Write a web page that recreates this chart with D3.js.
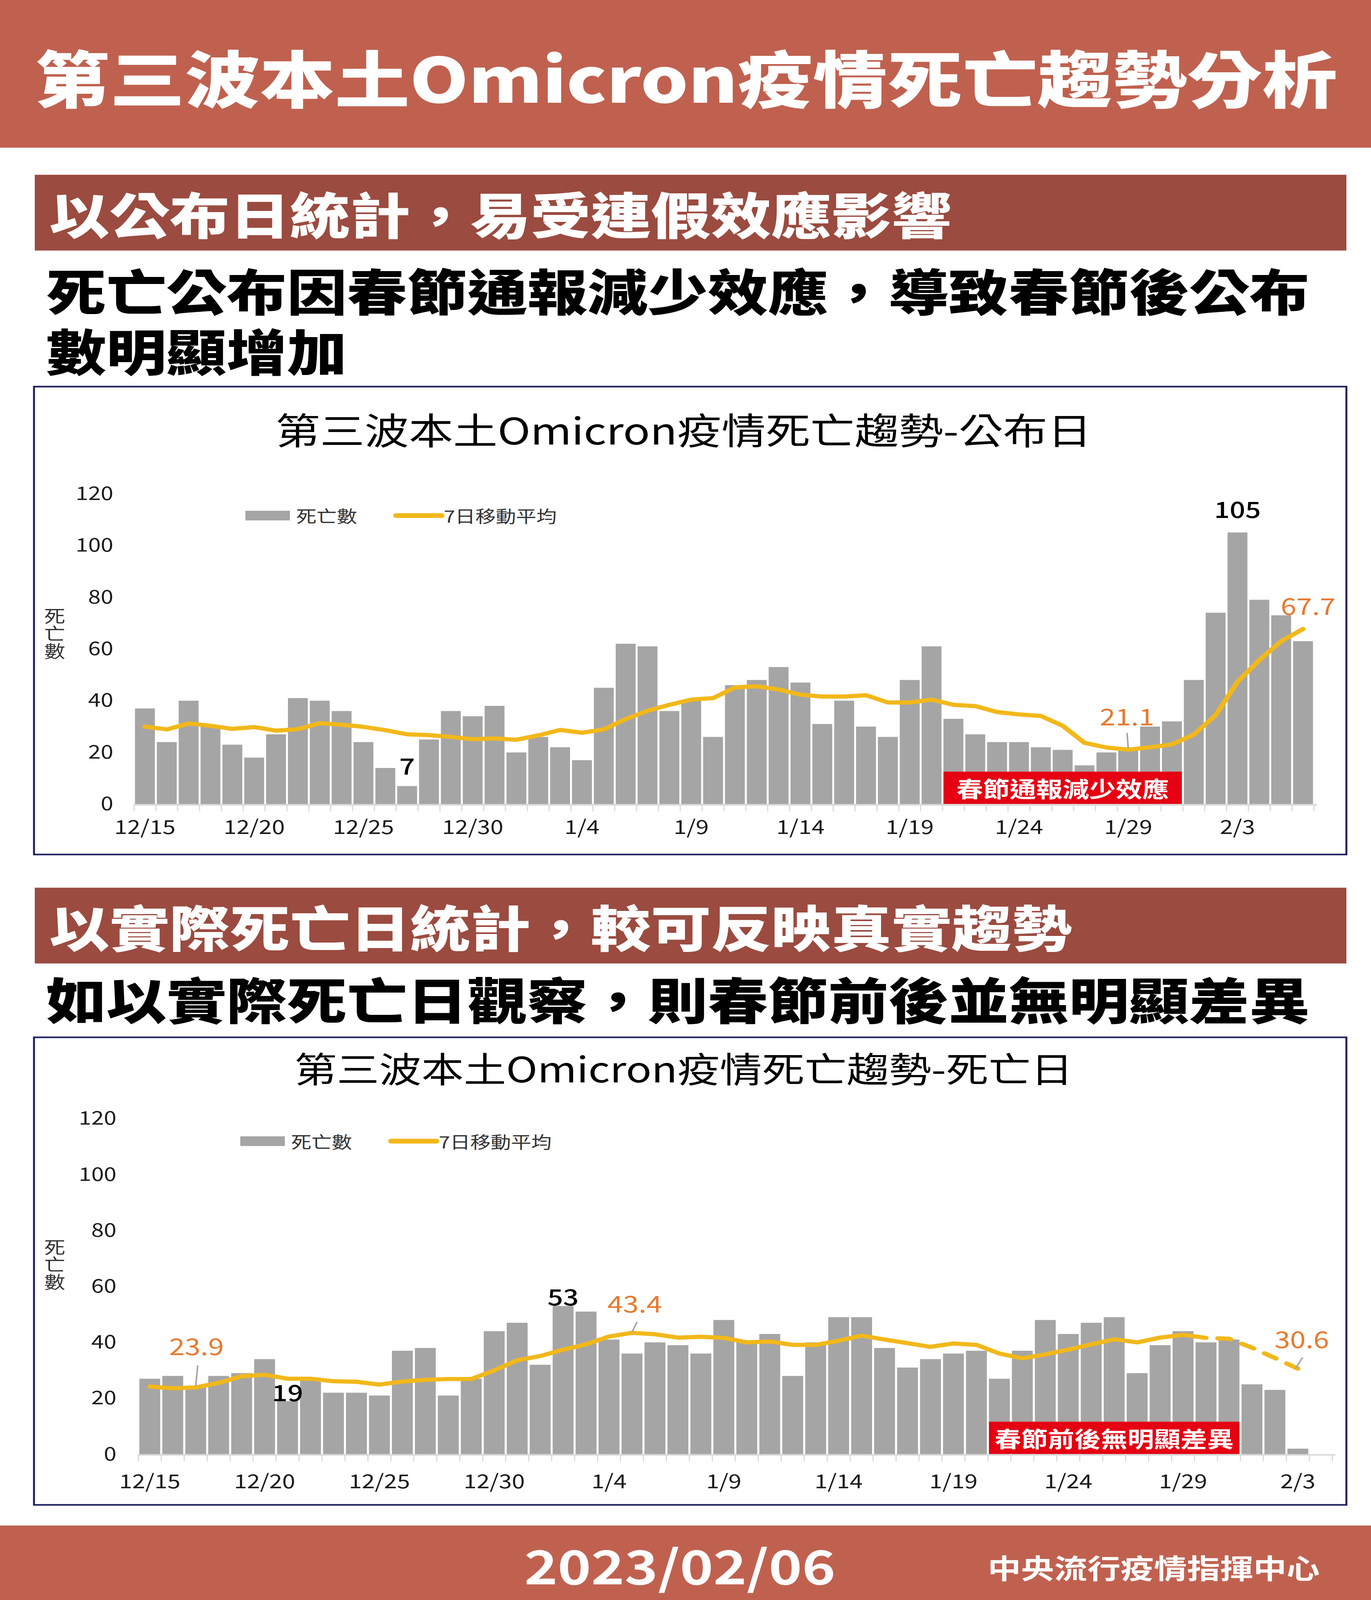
<!DOCTYPE html>
<html>
<head>
<meta charset="utf-8">
<script src="https://cdn.jsdelivr.net/npm/d3@7.9.0/dist/d3.min.js"></script>
<style>
  html, body { margin: 0; padding: 0; background: #fff; overflow: hidden; }
  /* the page is drawn in 3509x4962 units and fitted to whatever window we get */
  svg { display: block; width: 100vw; height: 100vh; }
  text { font-family: "Noto Sans CJK TC", "Noto Sans", sans-serif; }
</style>
</head>
<body>
<svg id="page" viewBox="0 0 3509 4962" preserveAspectRatio="none"></svg>
<script>
// ---- data ----
const days = [
  '12/15', '12/16', '12/17', '12/18', '12/19', '12/20', '12/21', '12/22', '12/23', '12/24',
  '12/25', '12/26', '12/27', '12/28', '12/29', '12/30', '12/31',
  '1/1', '1/2', '1/3', '1/4', '1/5', '1/6', '1/7', '1/8', '1/9', '1/10',
  '1/11', '1/12', '1/13', '1/14', '1/15', '1/16', '1/17', '1/18', '1/19', '1/20',
  '1/21', '1/22', '1/23', '1/24', '1/25', '1/26', '1/27', '1/28', '1/29', '1/30', '1/31',
  '2/1', '2/2', '2/3', '2/4', '2/5', '2/6'
];
const tickLabels = ['12/15', '12/20', '12/25', '12/30', '1/4', '1/9', '1/14', '1/19', '1/24', '1/29', '2/3'];
const yTicks = [0, 20, 40, 60, 80, 100, 120];

// by report date (12/15 - 2/6)
const pubDeaths = [
  37, 24, 40, 30, 23, 18, 27, 41, 40, 36, 24, 14, 7, 25, 36, 34, 38,
  20, 26, 22, 17, 45, 62, 61, 36, 40, 26, 46, 48, 53, 47, 31, 40, 30, 26, 48, 61,
  33, 27, 24, 24, 22, 21, 15, 20, 22, 30, 32,
  48, 74, 105, 79, 73, 63
];
const pubAvg = [
  30.0, 28.9, 31.2, 30.3, 29.1, 29.8, 28.4, 29.0, 31.3, 30.7, 29.9, 28.6, 27.0, 26.7, 26.0, 25.1, 25.4,
  24.9, 26.6, 28.7, 27.6, 28.9, 32.9, 36.1, 38.4, 40.4, 41.0, 45.1, 45.6, 44.3, 42.3, 41.6, 41.6, 42.1, 39.3, 39.3, 40.4,
  38.4, 37.9, 35.6, 34.7, 34.1, 30.3, 23.7, 21.9, 21.1, 22.0, 23.1,
  26.9, 34.4, 47.3, 55.7, 63.0, 67.7
];
const pubBarLabelDays = ['12/27', '2/3'];
const pubAvgLabelDays = ['1/29', '2/6'];

// by date of death (12/15 - 2/4)
const deathDays = days.slice(0, 52);
const deathCounts = [
  27, 28, 24, 28, 29, 34, 19, 27, 22, 22, 21, 37, 38, 21, 27, 44, 47,
  32, 53, 51, 41, 36, 40, 39, 36, 48, 40, 43, 28, 40, 49, 49, 38, 31, 34, 36, 37,
  27, 37, 48, 43, 47, 49, 29, 39, 44, 40, 41,
  25, 23, 2, null
];
const deathAvg = [
  24.2, 23.6, 23.9, 25.5, 27.9, 28.4, 27.0, 27.0, 26.1, 25.9, 24.9, 26.0, 26.6, 26.9, 26.9, 30.0, 33.6,
  35.1, 37.4, 39.3, 42.1, 43.4, 42.9, 41.7, 42.0, 41.6, 40.0, 40.3, 39.1, 39.1, 40.6, 42.4, 41.0, 39.7, 38.4, 39.6, 39.1,
  36.0, 34.3, 35.7, 37.4, 39.3, 41.1, 40.0, 41.7, 42.7, 41.6, 41.3,
  38.1, 34.4, 30.6, null
];
const deathBarLabelDays = ['12/21', '1/2'];
const deathAvgLabelDays = ['12/17', '1/5', '2/3'];
const deathDashFrom = '1/30';

const holidaySpan = ['1/21', '1/31'];

// ---- colours ----
const C = {
  header: '#C0614F',
  band: '#9B4B40',
  frame: '#1E2160',
  bar: '#A5A5A5',
  avg: '#F2B81A',
  orange: '#E67A30',
  red: '#E50012',
  axis: '#D9D9D9',
  ink: '#1a1a1a'
};

const svg = d3.select('#page');

function fitWidth(sel, w) {
  const len = sel.node().getComputedTextLength();
  const fs = parseFloat(sel.attr('font-size'));
  sel.attr('font-size', fs * w / len);
}

// ---- page frame ----
svg.append('rect').attr('x', 0).attr('y', 0).attr('width', 3509).attr('height', 458).attr('fill', C.header);
const mainTitle = svg.append('text')
  .attr('x', 1756).attr('y', 235)
  .attr('text-anchor', 'middle').attr('dominant-baseline', 'central')
  .attr('font-size', 196).attr('font-weight', 900).attr('fill', '#fff')
  .text('第三波本土Omicron疫情死亡趨勢分析');
fitWidth(mainTitle, 3333);

function band(y, h, label) {
  svg.append('rect').attr('x', 89).attr('y', y).attr('width', 3357).attr('height', h).attr('fill', C.band);
  svg.append('text')
    .attr('x', 126).attr('y', y + h / 2)
    .attr('dominant-baseline', 'central')
    .attr('font-size', 154).attr('font-weight', 900).attr('fill', '#fff')
    .text(label);
}

function sublines(y, lines) {
  const t = svg.append('text')
    .attr('y', y)
    .attr('dominant-baseline', 'central')
    .attr('font-size', 154).attr('font-weight', 900).attr('fill', '#000');
  lines.forEach((s, i) => {
    t.append('tspan').attr('x', 118).attr('dy', i === 0 ? 0 : 186).text(s);
  });
}

band(542, 235, '以公布日統計，易受連假效應影響');
sublines(897, ['死亡公布因春節通報減少效應，導致春節後公布', '數明顯增加']);

band(2753, 235, '以實際死亡日統計，較可反映真實趨勢');
sublines(3094, ['如以實際死亡日觀察，則春節前後並無明顯差異']);

svg.append('rect').attr('x', 0).attr('y', 4731).attr('width', 3509).attr('height', 231).attr('fill', C.header);
svg.append('text')
  .attr('x', 1740).attr('y', 4850)
  .attr('text-anchor', 'middle').attr('dominant-baseline', 'central')
  .attr('font-size', 145).attr('font-weight', 700).attr('fill', '#fff')
  .text('2023/02/06');
svg.append('text')
  .attr('x', 2528).attr('y', 4860)
  .attr('dominant-baseline', 'central')
  .attr('font-size', 85).attr('font-weight', 700).attr('fill', '#fff')
  .text('中央流行疫情指揮中心');

// ---- chart ----
function drawChart(o) {
  const g = svg.append('g');

  g.append('rect')
    .attr('x', 87).attr('y', o.boxTop).attr('width', 3359).attr('height', o.boxH)
    .attr('fill', '#fff').attr('stroke', C.frame).attr('stroke-width', 5);

  const title = g.append('text')
    .attr('x', 1750).attr('y', o.titleY)
    .attr('text-anchor', 'middle').attr('dominant-baseline', 'central')
    .attr('font-size', 112).attr('fill', '#000')
    .text(o.title);
  fitWidth(title, o.titleW);

  const pad = 0.09;
  const x = d3.scaleBand().domain(o.cats).range(o.xRange).paddingInner(pad).paddingOuter(pad / 2);
  const y = d3.scaleLinear().domain([0, 120]).range([o.yBase, o.yTop]);
  const step = x.step();
  const cx = (d) => x(d) + x.bandwidth() / 2;
  const idx = (d) => o.cats.indexOf(d);

  // y axis (labels only)
  const yAxis = g.append('g')
    .attr('transform', `translate(${o.yLabelX},0)`)
    .call(d3.axisLeft(y).tickValues(yTicks).tickSize(0).tickPadding(0));
  yAxis.select('.domain').remove();
  yAxis.selectAll('text')
    .attr('font-size', 58).attr('fill', C.ink)
    .style('font-family', '"Noto Sans CJK TC", sans-serif');

  // y title, written top to bottom
  g.append('text')
    .attr('x', 140).attr('y', o.yTitleY)
    .attr('text-anchor', 'middle')
    .style('writing-mode', 'vertical-rl')
    .attr('font-size', 54).attr('fill', '#333')
    .text('死亡數');

  // bars
  g.append('g').selectAll('rect')
    .data(o.cats.map((d, i) => ({ d, v: o.bars[i] })).filter((e) => e.v != null))
    .join('rect')
    .attr('x', (e) => x(e.d))
    .attr('y', (e) => y(e.v))
    .attr('width', x.bandwidth())
    .attr('height', (e) => y(0) - y(e.v))
    .attr('fill', C.bar);

  // x axis line + boundary ticks
  const edges = o.cats.map((d) => x(d) - step * pad / 2).concat([o.xRange[1]]);
  g.append('line')
    .attr('x1', o.xRange[0]).attr('x2', o.xRange[1] + 8)
    .attr('y1', o.yBase + 2).attr('y2', o.yBase + 2)
    .attr('stroke', C.axis).attr('stroke-width', 5);
  g.append('g').selectAll('line')
    .data(edges)
    .join('line')
    .attr('x1', (d) => d).attr('x2', (d) => d)
    .attr('y1', o.yBase).attr('y2', o.yBase + 22)
    .attr('stroke', C.axis).attr('stroke-width', 3);

  const xAxis = g.append('g')
    .attr('transform', `translate(0,${o.yBase})`)
    .call(d3.axisBottom(x).tickValues(tickLabels).tickSize(0));
  xAxis.select('.domain').remove();
  xAxis.selectAll('text')
    .attr('y', o.xLabelDy).attr('dy', '0.35em')
    .attr('font-size', 60).attr('fill', C.ink)
    .style('font-family', '"Noto Sans CJK TC", sans-serif');

  // moving average
  const pts = o.cats.map((d, i) => ({ d, i, v: o.avg[i] })).filter((e) => e.v != null);
  const line = d3.line().x((e) => cx(e.d)).y((e) => y(e.v));
  const cut = o.dashFrom ? idx(o.dashFrom) : pts.length;
  g.append('path')
    .attr('d', line(pts.filter((e) => e.i <= cut)))
    .attr('fill', 'none').attr('stroke', C.avg).attr('stroke-width', 13)
    .attr('stroke-linejoin', 'round').attr('stroke-linecap', 'round');
  if (o.dashFrom) {
    g.append('path')
      .attr('d', line(pts.filter((e) => e.i >= cut)))
      .attr('fill', 'none').attr('stroke', C.avg).attr('stroke-width', 13)
      .attr('stroke-dasharray', '34 31').attr('stroke-linecap', 'round')
      .attr('stroke-dashoffset', -30);
  }

  // holiday annotation
  const hx0 = x(o.holiday[0]);
  const hx1 = x(o.holiday[1]) + x.bandwidth();
  g.append('rect')
    .attr('x', hx0).attr('y', o.yBase - 101).attr('width', hx1 - hx0).attr('height', 100)
    .attr('fill', C.red);
  g.append('text')
    .attr('x', (hx0 + hx1) / 2).attr('y', o.yBase - 51)
    .attr('text-anchor', 'middle').attr('dominant-baseline', 'central')
    .attr('font-size', 68).attr('font-weight', 700).attr('fill', '#fff')
    .text(o.holidayText);

  // bar value labels
  o.barLabels.forEach((d) => {
    const v = o.bars[idx(d)];
    const off = o.barLabelOff[d];
    g.append('text')
      .attr('x', cx(d)).attr('y', y(v) + off)
      .attr('text-anchor', 'middle').attr('dominant-baseline', 'central')
      .attr('font-size', 70).attr('font-weight', 500).attr('fill', '#000')
      .text(v);
  });

  // average value labels with leader lines
  o.avgLabels.forEach((d) => {
    const v = o.avg[idx(d)];
    const off = o.avgLabelOff[d];
    const px = cx(d), py = y(v);
    if (off.lead) {
      g.append('line')
        .attr('x1', px + off.lead[0]).attr('y1', py + off.lead[1])
        .attr('x2', px + off.lead[2]).attr('y2', py + off.lead[3])
        .attr('stroke', C.bar).attr('stroke-width', 4);
    }
    g.append('text')
      .attr('x', px + off.dx).attr('y', py + off.dy)
      .attr('text-anchor', 'middle').attr('dominant-baseline', 'central')
      .attr('font-size', 72).attr('fill', C.orange)
      .text(v.toFixed(1));
  });

  // legend
  const L = o.legend;
  g.append('rect').attr('x', L.x).attr('y', L.y - 15).attr('width', 114).attr('height', 30).attr('fill', C.bar);
  g.append('text').attr('x', L.x + 130).attr('y', L.y)
    .attr('dominant-baseline', 'central').attr('font-size', 52).attr('fill', '#333')
    .text('死亡數');
  g.append('line')
    .attr('x1', L.x + 386).attr('x2', L.x + 502).attr('y1', L.y).attr('y2', L.y)
    .attr('stroke', C.avg).attr('stroke-width', 15).attr('stroke-linecap', 'round');
  g.append('text').attr('x', L.x + 508).attr('y', L.y)
    .attr('dominant-baseline', 'central').attr('font-size', 52).attr('fill', '#333')
    .text('7日移動平均');
}

drawChart({
  boxTop: 1199, boxH: 1451,
  title: '第三波本土Omicron疫情死亡趨勢-公布日', titleY: 1329, titleW: 2089,
  cats: days, bars: pubDeaths, avg: pubAvg,
  xRange: [343, 3363], yBase: 2494, yTop: 1531,
  yLabelX: 290, yTitleY: 1965, xLabelDy: 72,
  holiday: holidaySpan, holidayText: '春節通報減少效應',
  barLabels: pubBarLabelDays,
  barLabelOff: { '12/27': -66, '2/3': -76 },
  avgLabels: pubAvgLabelDays,
  avgLabelOff: {
    '1/29': { dx: -3, dy: -107, lead: [0, -4, -3, -52] },
    '2/6': { dx: 13, dy: -76 }
  },
  legend: { x: 628, y: 1599 }
});

drawChart({
  boxTop: 3217, boxH: 1450,
  title: '第三波本土Omicron疫情死亡趨勢-死亡日', titleY: 3310, titleW: 1993,
  cats: deathDays, bars: deathCounts, avg: deathAvg, dashFrom: deathDashFrom,
  xRange: [354, 3410], yBase: 4510, yTop: 3469,
  yLabelX: 298, yTitleY: 3922, xLabelDy: 84,
  holiday: holidaySpan, holidayText: '春節前後無明顯差異',
  barLabels: deathBarLabelDays,
  barLabelOff: { '12/21': -30, '1/2': -32 },
  avgLabels: deathAvgLabelDays,
  avgLabelOff: {
    '12/17': { dx: 2, dy: -132, lead: [0, -4, 5, -68] },
    '1/5': { dx: 7, dy: -95, lead: [0, -2, 13, -34] },
    '2/3': { dx: 10, dy: -95, lead: [-6, 0, 12, -35] }
  },
  legend: { x: 615, y: 3539 }
});
</script>
</body>
</html>
